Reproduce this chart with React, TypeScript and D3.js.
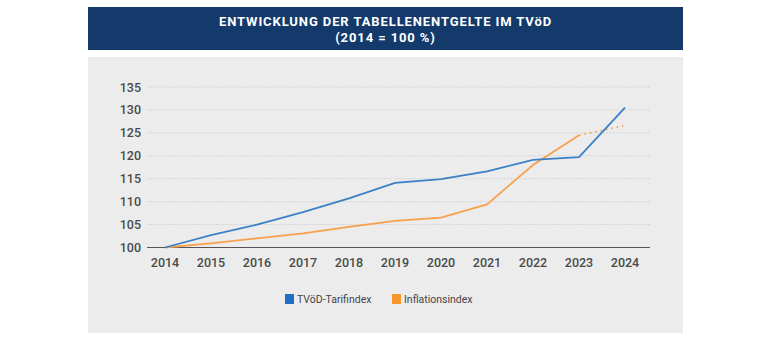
import React from "react";
import * as d3 from "d3";

const years = [2014, 2015, 2016, 2017, 2018, 2019, 2020, 2021, 2022, 2023, 2024];
const tvoed = [100, 102.7, 105.0, 107.7, 110.7, 114.1, 114.9, 116.6, 119.1, 119.7, 130.5];
const inflation = [100, 100.9, 102.0, 103.1, 104.5, 105.8, 106.5, 109.4, 118.0, 124.5];
const inflationForecast = [124.5, 126.6];
const yTicks = [100, 105, 110, 115, 120, 125, 130, 135];
const titleLines = ["ENTWICKLUNG DER TABELLENENTGELTE IM TVöD", "(2014 = 100 %)"];
const seriesNames = ["TVöD-Tarifindex", "Inflationsindex"];

export default function App() {
  const x = d3.scaleLinear().domain([2014, 2024]).range([165, 625]);
  const y = d3.scaleLinear().domain([100, 135]).range([247.5, 87]);
  const line = d3
    .line<[number, number]>()
    .x((d) => x(d[0]))
    .y((d) => y(d[1]));
  const blue = "#3a80c6";
  const orange = "#f8a04c";
  const font = "Roboto, 'Liberation Sans', sans-serif";
  const blueData: [number, number][] = years.map((yr, i) => [yr, tvoed[i]]);
  const orangeData: [number, number][] = inflation.map((v, i) => [years[i], v]);
  const forecastData: [number, number][] = inflationForecast.map((v, i) => [2023 + i, v]);

  return (
    <div style={{ position: "absolute", left: 0, top: 0 }}>
      <svg width={780} height={350} style={{ display: "block", background: "#fff" }}>
        <rect x={88} y={7} width={595} height={43} fill="#143a6c" />
        {titleLines.map((t, i) => (
          <text
            key={i}
            x={385.5}
            y={25.7 + i * 16.6}
            textAnchor="middle"
            fill="#fff"
            fontFamily={font}
            fontWeight="bold"
            fontSize={13}
            letterSpacing={0.9}
          >
            {t}
          </text>
        ))}
        <rect x={88} y={57} width={595} height={276} fill="#ececec" />
        {yTicks.map((t) => (
          <g key={t}>
            {t !== 100 && (
              <line
                x1={147}
                x2={650}
                y1={y(t)}
                y2={y(t)}
                stroke="#d6d6d6"
                strokeWidth={1}
                strokeDasharray="2,1"
              />
            )}
            <text
              x={141}
              y={y(t) + 4.5}
              textAnchor="end"
              fill="#4a4a4a"
              fontFamily={font}
              fontWeight={500}
              fontSize={12.5}
            >
              {t}
            </text>
          </g>
        ))}
        <line x1={147} x2={650} y1={y(100)} y2={y(100)} stroke="#555" strokeWidth={1.2} />
        {years.map((yr) => (
          <text
            key={yr}
            x={x(yr)}
            y={266.5}
            textAnchor="middle"
            fill="#4a4a4a"
            fontFamily={font}
            fontWeight={500}
            fontSize={12.5}
          >
            {yr}
          </text>
        ))}
        <path d={line(orangeData) || ""} fill="none" stroke={orange} strokeWidth={1.8} />
        <path
          d={line(forecastData) || ""}
          fill="none"
          stroke={orange}
          strokeWidth={1.8}
          strokeDasharray="1.5,4"
        />
        <path d={line(blueData) || ""} fill="none" stroke={blue} strokeWidth={1.8} />
        <rect x={285} y={294} width={9} height={10} fill="#1f6fc2" />
        <text x={297} y={303} fill="#444" fontFamily={font} fontSize={10.5}>
          {seriesNames[0]}
        </text>
        <rect x={392} y={294} width={9} height={10} fill="#f8962e" />
        <text x={404} y={303} fill="#444" fontFamily={font} fontSize={10.5}>
          {seriesNames[1]}
        </text>
      </svg>
    </div>
  );
}
